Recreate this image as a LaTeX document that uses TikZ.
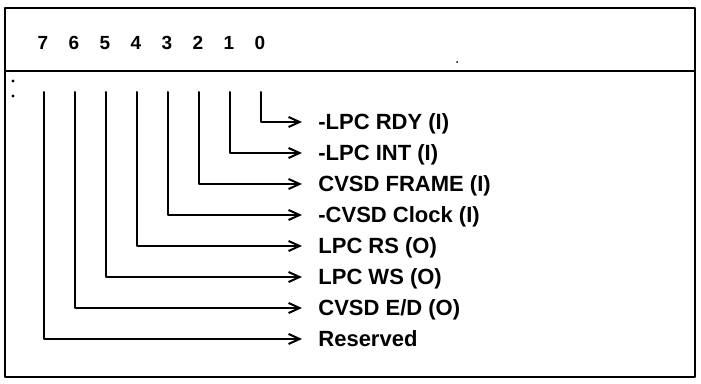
\documentclass[tikz,border=0pt]{standalone}
\usepackage{fontspec}
\setmainfont{Liberation Sans}
\usetikzlibrary{arrows.meta}

\begin{document}
\begin{tikzpicture}[x=0.5pt,y=-0.5pt,line cap=round,line join=round,
  bitnum/.style={inner sep=0pt,font=\fontsize{9.5}{10}\selectfont\bfseries},
  signame/.style={anchor=west,inner xsep=8pt,inner ysep=0pt,text height=7.9pt,text depth=0pt,
    font=\fontsize{11}{12}\selectfont\bfseries},
  wire/.style={line width=1pt,-{Straight Barb[length=5.5pt,width=5pt,line width=1pt]}}]
  \useasboundingbox (0,0) rectangle (701,384);
  \draw[line width=1.1pt] (5,8) rectangle (695,377);
  \draw[line width=1.1pt] (5,71) -- (695,71);
  \fill (13,81) circle (1.6);
  \fill (13,96) circle (1.6);
  \fill (457,62) circle (1);
  \node[bitnum] (b7) at (43,43) {7};
  \node[bitnum] (b6) at (74,43) {6};
  \node[bitnum] (b5) at (105,43) {5};
  \node[bitnum] (b4) at (136,43) {4};
  \node[bitnum] (b3) at (167,43) {3};
  \node[bitnum] (b2) at (198,43) {2};
  \node[bitnum] (b1) at (229,43) {1};
  \node[bitnum] (b0) at (260,43) {0};
  \coordinate (t7) at (44,92);
  \coordinate (t6) at (75,92);
  \coordinate (t5) at (106,92);
  \coordinate (t4) at (137,92);
  \coordinate (t3) at (168,92);
  \coordinate (t2) at (199,92);
  \coordinate (t1) at (230,92);
  \coordinate (t0) at (261,92);
  \node[signame] (s0) at (302,122) {-LPC RDY (I)};
  \node[signame] (s1) at (302,153) {-LPC INT (I)};
  \node[signame] (s2) at (302,184) {CVSD FRAME (I)};
  \node[signame] (s3) at (302,215) {-CVSD Clock (I)};
  \node[signame] (s4) at (302,246) {LPC RS (O)};
  \node[signame] (s5) at (302,277) {LPC WS (O)};
  \node[signame] (s6) at (302,308) {CVSD E/D (O)};
  \node[signame] (s7) at (302,339) {Reserved};
  \draw[wire] (t0) |- (s0.west);
  \draw[wire] (t1) |- (s1.west);
  \draw[wire] (t2) |- (s2.west);
  \draw[wire] (t3) |- (s3.west);
  \draw[wire] (t4) |- (s4.west);
  \draw[wire] (t5) |- (s5.west);
  \draw[wire] (t6) |- (s6.west);
  \draw[wire] (t7) |- (s7.west);
\end{tikzpicture}
\end{document}
